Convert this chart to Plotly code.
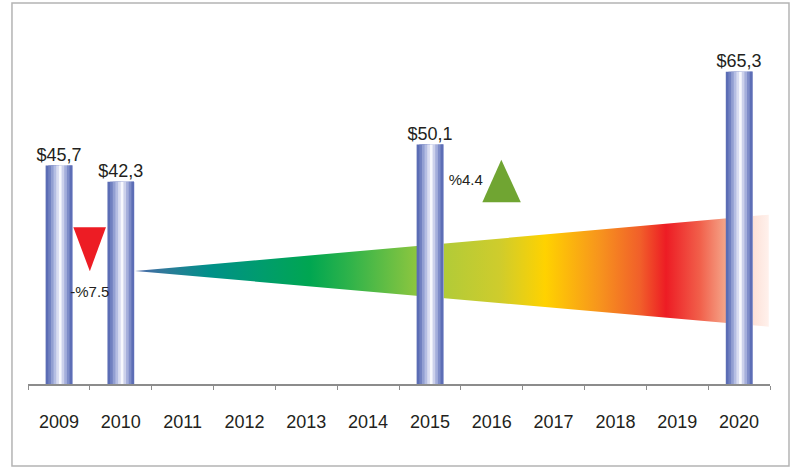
import plotly.graph_objects as go

# ---------------- data ----------------
years = [2009, 2010, 2011, 2012, 2013, 2014, 2015, 2016, 2017, 2018, 2019, 2020]
values = [45.7, 42.3, None, None, None, None, 50.1, None, None, None, None, 65.3]

# growth wedge (x in years, y in value units)
wedge_x = [2010.23, 2020.48, 2020.48, 2010.23]
wedge_y = [23.64, 35.42, 11.99, 23.64]

# change indicators
down_tri_x = [2009.233, 2009.761, 2009.5, 2009.233]
down_tri_y = [32.8, 32.8, 23.6, 32.8]
up_tri_x = [2015.848, 2016.47, 2016.155, 2015.848]
up_tri_y = [38.0, 38.0, 46.9, 38.0]
pct_labels = ["-%7.5", "%4.4"]
pct_x = [2009.5, 2015.58]
pct_y = [19.0, 42.5]

# ---------------- style ----------------
FONT = "Liberation Sans, Arial, Helvetica, sans-serif"
stripe_colors = ["#5b6db5", "#7080c0", "#929fd2", "#b5bee3", "#d9ddf1",
                 "#f7f8fd", "#ccd1eb", "#a4aedb", "#7e8cc8", "#5d6eb6"]
bar_w = 0.43
stripe_w = bar_w / len(stripe_colors)
YMAX = 75.1

wedge_scale = [
    [0.0, "#4a68aa"], [0.047, "#2f7a9a"], [0.118, "#009088"], [0.197, "#009c6e"],
    [0.276, "#00a651"], [0.339, "#2fb34a"], [0.445, "#8dc63f"], [0.489, "#b2cb38"],
    [0.576, "#cfcc2c"], [0.647, "#ffd200"], [0.733, "#f7941d"], [0.797, "#f15f2a"],
    [0.838, "#ed1c24"], [0.891, "#f15f4a"], [0.932, "#f5a589"], [0.978, "#fde3da"],
    [1.0, "#fff1ec"],
]

fig = go.Figure()

# wedge on base subplot (drawn below the bars)
fig.add_trace(go.Scatter(
    x=wedge_x, y=wedge_y, mode="lines", fill="toself",
    line=dict(width=0, color="rgba(0,0,0,0)"),
    fillgradient=dict(type="horizontal", colorscale=wedge_scale),
    hoverinfo="skip", showlegend=False, xaxis="x", yaxis="y",
))

# cylinder bars on overlay subplot
for i, c in enumerate(stripe_colors):
    fig.add_trace(go.Bar(
        x=years, y=values, width=bar_w - i * stripe_w, offset=-bar_w / 2 + i * stripe_w,
        marker=dict(color=c, line=dict(width=0)),
        showlegend=False, hoverinfo="skip", xaxis="x2", yaxis="y2",
    ))

# value labels
lab_x = [x for x, v in zip(years, values) if v is not None]
lab_y = [v for v in values if v is not None]
lab_t = ["$" + f"{v:.1f}".replace(".", ",") for v in lab_y]
fig.add_trace(go.Scatter(
    x=lab_x, y=lab_y, mode="text", text=lab_t, textposition="top center",
    textfont=dict(family=FONT, size=18, color="#231f20"),
    showlegend=False, hoverinfo="skip", xaxis="x2", yaxis="y2",
))

# indicators
fig.add_trace(go.Scatter(
    x=down_tri_x, y=down_tri_y, mode="lines", fill="toself", fillcolor="#ed1c24",
    line=dict(width=0, color="#ed1c24"), showlegend=False, hoverinfo="skip",
    xaxis="x2", yaxis="y2",
))
fig.add_trace(go.Scatter(
    x=up_tri_x, y=up_tri_y, mode="lines", fill="toself", fillcolor="#70a532",
    line=dict(width=0, color="#70a532"), showlegend=False, hoverinfo="skip",
    xaxis="x2", yaxis="y2",
))
fig.add_trace(go.Scatter(
    x=pct_x, y=pct_y, mode="text", text=pct_labels, textposition="middle center",
    textfont=dict(family=FONT, size=15, color="#231f20"),
    showlegend=False, hoverinfo="skip", xaxis="x2", yaxis="y2",
))

xr = [2008.5, 2020.5]
fig.update_layout(
    width=798, height=467,
    margin=dict(l=28, r=28, t=25, b=83),
    paper_bgcolor="white", plot_bgcolor="white",
    barmode="overlay",
    xaxis=dict(
        range=xr, tickvals=years, ticktext=[str(y) for y in years],
        ticks="", showgrid=False, zeroline=False,
        showline=True, linecolor="#8c8c8c", linewidth=1.5,
        tickfont=dict(family=FONT, size=18, color="#231f20"),
        ticklabelstandoff=21,
        minor=dict(tickvals=[2008.5 + i for i in range(13)], ticks="outside",
                   ticklen=4, tickcolor="#8c8c8c", tickwidth=1, showgrid=False),
    ),
    yaxis=dict(range=[0, YMAX], visible=False, showgrid=False, zeroline=False),
    xaxis2=dict(range=xr, overlaying="x", visible=False, showgrid=False, zeroline=False),
    yaxis2=dict(range=[0, YMAX], overlaying="y", visible=False, showgrid=False, zeroline=False),
    shapes=[dict(type="rect", xref="paper", yref="paper",
                 x0=-0.0216, x1=1.0256, y0=-0.2284, y1=1.0613,
                 line=dict(color="#b4b4b4", width=1.5), fillcolor="rgba(0,0,0,0)",
                 layer="below")],
)

fig.write_html("out.html", config={"displayModeBar": False},
               post_script="document.body.style.margin='0';")
